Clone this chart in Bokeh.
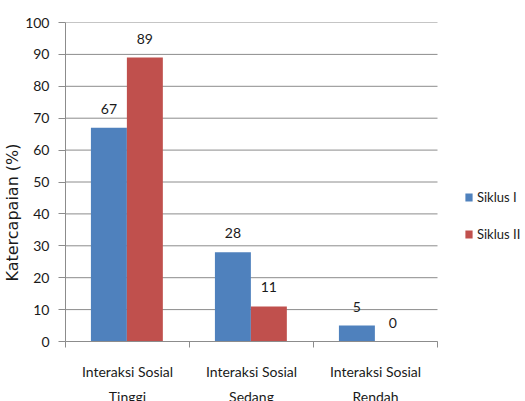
from bokeh.plotting import figure
from bokeh.models import ColumnDataSource, FixedTicker, Legend, LegendItem, LabelSet
from bokeh.core.properties import value
from bokeh.embed import file_html
from bokeh.resources import INLINE

# Data
categories = ["Interaksi Sosial\nTinggi", "Interaksi Sosial\nSedang", "Interaksi Sosial\nRendah"]
siklus_1 = [67, 28, 5]
siklus_2 = [89, 11, 0]
series_names = ["Siklus I", "Siklus II"]
y_ticks = [0, 10, 20, 30, 40, 50, 60, 70, 80, 90, 100]

BLUE = "#4F81BD"
RED = "#C0504D"
GRID = "#8C8C8C"
TEXT = "#1a1a1a"
FONT = "Lato"

n = len(categories)
centers = [i + 0.5 for i in range(n)]
bar_w = 0.29
x1 = [c - bar_w / 2 - 0.005 for c in centers]
x2 = [c + bar_w / 2 - 0.005 for c in centers]

src1 = ColumnDataSource(dict(x=x1, top=siklus_1, lab=[str(v) for v in siklus_1]))
src2 = ColumnDataSource(dict(x=x2, top=siklus_2, lab=[str(v) for v in siklus_2]))

# plot frame: categories occupy 372 px, the rest of the frame holds the legend
frame_w, cat_w = 460, 372
p = figure(frame_width=frame_w, frame_height=319,
           output_backend="svg", toolbar_location=None,
           x_range=(0, n * frame_w / cat_w), y_range=(0, 100),
           min_border_left=65, min_border_right=0,
           min_border_top=22, min_border_bottom=0)
p.outline_line_color = None

# horizontal gridlines only across the category area
p.segment(x0=[0] * len(y_ticks), x1=[n] * len(y_ticks), y0=y_ticks, y1=y_ticks,
          line_color=GRID, line_width=1)

r1 = p.vbar(x="x", top="top", width=bar_w, bottom=0, source=src1,
            fill_color=BLUE, line_color=None)
r2 = p.vbar(x="x", top="top", width=bar_w, bottom=0, source=src2,
            fill_color=RED, line_color=None)

for src in (src1, src2):
    p.add_layout(LabelSet(x="x", y="top", text="lab", source=src,
                          y_offset=19, text_align="center", text_baseline="middle",
                          text_font=value(FONT), text_font_size="14px", text_color=TEXT))

# Y axis
p.yaxis.ticker = FixedTicker(ticks=y_ticks)
p.yaxis.axis_line_color = GRID
p.yaxis.major_tick_line_color = GRID
p.yaxis.major_tick_out = 7
p.yaxis.major_tick_in = 0
p.yaxis.minor_tick_line_color = None
p.yaxis.major_label_text_font = FONT
p.yaxis.major_label_text_font_size = "14px"
p.yaxis.major_label_text_color = TEXT
p.yaxis.major_label_standoff = 9
p.yaxis.axis_label = "Katercapaian (%)" + "\u00a0" * 12
p.yaxis.axis_label_text_font = "DejaVu Sans"
p.yaxis.axis_label_text_font_size = "16px"
p.yaxis.axis_label_text_font_style = "normal"
p.yaxis.axis_label_text_color = TEXT
p.yaxis.axis_label_standoff = 0

# X axis: labels at category centres, tick marks at category boundaries
p.xaxis.ticker = FixedTicker(ticks=centers, minor_ticks=list(range(n + 1)))
p.xaxis.bounds = (0, n)
p.xaxis.major_label_overrides = {c: lab for c, lab in zip(centers, categories)}
p.xaxis.axis_line_color = GRID
p.xaxis.major_tick_line_color = None
p.xaxis.major_tick_out = 0
p.xaxis.minor_tick_line_color = GRID
p.xaxis.minor_tick_out = 6
p.xaxis.minor_tick_in = 0
p.xaxis.major_label_text_font = FONT
p.xaxis.major_label_text_font_size = "14px"
p.xaxis.major_label_text_color = TEXT
p.xaxis.major_label_text_line_height = 1.5
p.xaxis.major_label_standoff = 15

p.xgrid.grid_line_color = None
p.ygrid.grid_line_color = None

legend = Legend(items=[LegendItem(label=series_names[0], renderers=[r1]),
                       LegendItem(label=series_names[1], renderers=[r2])],
                location=(399, 97), orientation="vertical",
                glyph_width=9, glyph_height=10, label_standoff=4,
                label_height=20, spacing=17, padding=0, margin=0,
                border_line_color=None, background_fill_alpha=0,
                label_text_font=FONT, label_text_font_size="13px",
                label_text_color=TEXT)
p.add_layout(legend, "center")

open("out.html", "w").write(file_html(p, INLINE))
